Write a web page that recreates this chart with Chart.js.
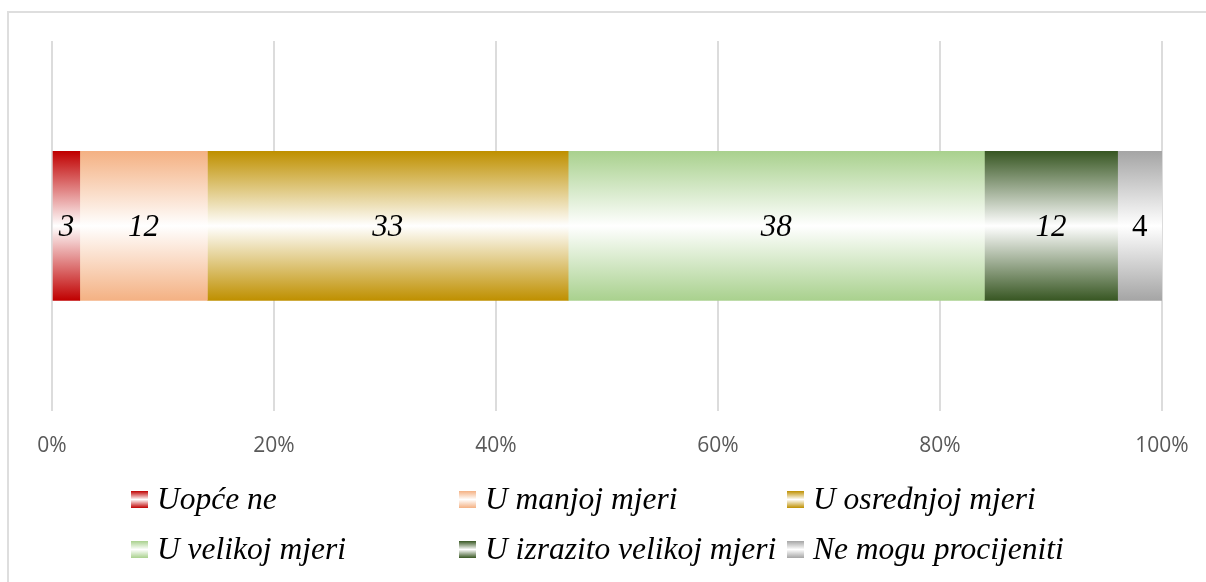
<!DOCTYPE html>
<html>
<head>
<meta charset="utf-8">
<script src="https://cdn.jsdelivr.net/npm/chart.js@4/dist/chart.umd.min.js"></script>
<style>
    html, body { margin: 0; padding: 0; background: #fff; }
    #wrap { position: relative; width: 1206px; height: 582px; overflow: hidden; }
    #frame { position: absolute; left: 7px; top: 11px; width: 1300px; height: 700px;
             border-left: 2px solid #dedede; border-top: 2px solid #dedede; }
    #chart { position: absolute; left: 0; top: 0; }
    #legend { position: absolute; left: 131px; top: 484px; display: grid;
              grid-template-columns: repeat(3, 328px); grid-auto-rows: 30px; row-gap: 20px; }
    .item { display: flex; align-items: center; font-family: "Liberation Serif", "DejaVu Serif", serif;
            font-style: italic; font-size: 31.5px; line-height: 30px; color: #000; white-space: nowrap; }
    .box { width: 17px; height: 17px; margin-right: 9px; flex: none; }
</style>
</head>
<body>
<div id="wrap">
    <div id="frame"></div>
    <canvas id="chart" width="1206" height="582"></canvas>
    <div id="legend"></div>
</div>
<script>
// answer categories (legend order) and share of respondents in %
var answers = ['Uopće ne', 'U manjoj mjeri', 'U osrednjoj mjeri', 'U velikoj mjeri', 'U izrazito velikoj mjeri', 'Ne mogu procijeniti'];
var shares = [2.5, 11.5, 32.5, 37.5, 12, 4];
var colours = ['#c00000', '#f4b183', '#bf9000', '#a9d18e', '#385723', '#a5a5a5'];
var tickValues = [0, 20, 40, 60, 80, 100];

var BAR_H = 149;

function barGradient(colour) {
    return function (context) {
        var chart = context.chart;
        if (!chart.chartArea || !chart.scales.y) return colour;
        var mid = chart.scales.y.getPixelForTick(0);
        var g = chart.ctx.createLinearGradient(0, mid - BAR_H / 2, 0, mid + BAR_H / 2);
        g.addColorStop(0, colour);
        g.addColorStop(0.5, '#ffffff');
        g.addColorStop(1, colour);
        return g;
    };
}

var datasets = [];
for (var i = 0; i < answers.length; i++) {
    datasets.push({
        label: answers[i],
        data: [shares[i]],
        backgroundColor: barGradient(colours[i]),
        borderWidth: 0,
        barThickness: BAR_H,
        italicLabel: i !== answers.length - 1
    });
}

// value labels in the middle of each segment
var segmentLabels = {
    id: 'segmentLabels',
    afterDatasetsDraw: function (chart) {
        var ctx = chart.ctx;
        ctx.save();
        ctx.fillStyle = '#000';
        ctx.textAlign = 'center';
        ctx.textBaseline = 'middle';
        chart.data.datasets.forEach(function (ds, i) {
            var el = chart.getDatasetMeta(i).data[0];
            if (!el) return;
            ctx.font = (ds.italicLabel ? 'italic ' : '') + '31px "Liberation Serif", serif';
            ctx.fillText(String(Math.round(ds.data[0])), (el.x + el.base) / 2, el.y + 2);
        });
        ctx.restore();
    }
};

new Chart(document.getElementById('chart'), {
    type: 'bar',
    data: { labels: [''], datasets: datasets },
    options: {
        indexAxis: 'y',
        responsive: false,
        animation: false,
        layout: { padding: { left: 52, right: 44, top: 41, bottom: 100 } },
        plugins: { legend: { display: false }, tooltip: { enabled: false } },
        scales: {
            x: {
                stacked: true,
                min: 0,
                max: 100,
                afterBuildTicks: function (axis) {
                    axis.ticks = tickValues.map(function (v) { return { value: v }; });
                },
                afterFit: function (axis) {
                    // edge labels may overhang, the padding already leaves room
                    axis.paddingLeft = 0;
                    axis.paddingRight = 0;
                },
                grid: { color: '#dcdcdc', lineWidth: 2, drawTicks: false },
                border: { display: false },
                ticks: {
                    padding: 23,
                    color: '#595959',
                    font: { family: '"Open Sans", sans-serif', size: 21 },
                    callback: function (v) { return v + '%'; }
                }
            },
            y: {
                stacked: true,
                display: false
            }
        }
    },
    plugins: [segmentLabels]
});

// legend in three fixed columns like the original
var legend = document.getElementById('legend');
answers.forEach(function (name, i) {
    var item = document.createElement('div');
    item.className = 'item';
    var box = document.createElement('span');
    box.className = 'box';
    box.style.background = 'linear-gradient(to bottom, ' + colours[i] + ', #ffffff, ' + colours[i] + ')';
    var txt = document.createElement('span');
    txt.textContent = name;
    item.appendChild(box);
    item.appendChild(txt);
    legend.appendChild(item);
});
</script>
</body>
</html>
